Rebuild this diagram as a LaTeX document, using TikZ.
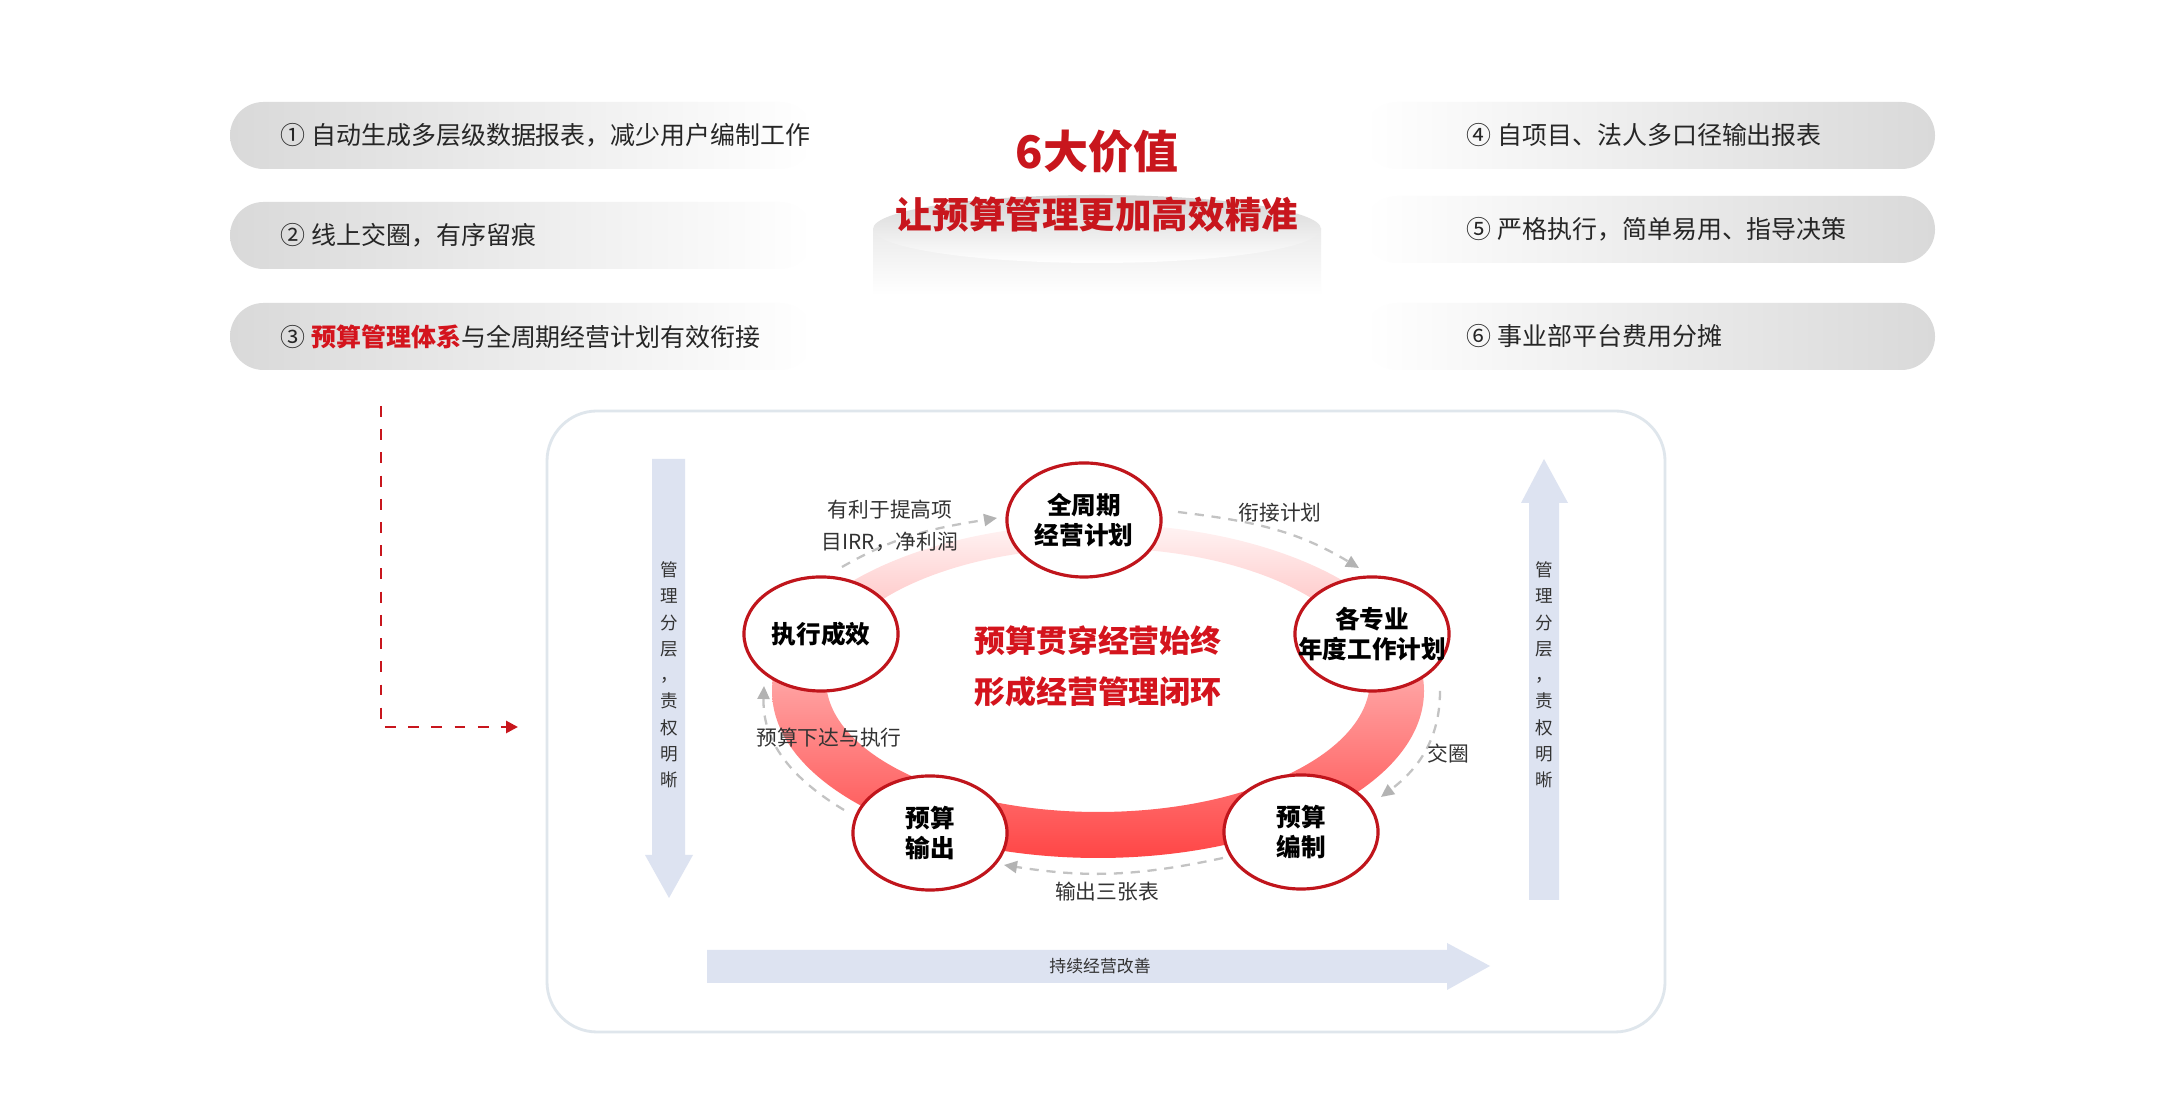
\documentclass[tikz,border=0pt]{standalone}
\usepackage{fontspec}
\setmainfont{Noto Sans CJK SC}
\usepackage{tikz}
\usetikzlibrary{arrows.meta, positioning, calc, shapes.geometric}
\usepackage{xcolor}

\definecolor{titlered}{HTML}{C8161D}
\definecolor{textred}{HTML}{D4141D}
\definecolor{ringred}{HTML}{FF4646}
\definecolor{ringmid}{HTML}{FFB0B0}
\definecolor{ringpale}{HTML}{FFF4F4}
\definecolor{nodered}{HTML}{C0151C}
\definecolor{bluegray}{HTML}{DDE3F1}
\definecolor{framegray}{HTML}{DFE6EC}
\definecolor{dashgray}{HTML}{C3C3C3}
\definecolor{tipgray}{HTML}{B3B3B3}
\definecolor{pillgray}{HTML}{D9D9D9}
\definecolor{inkdark}{HTML}{262626}
\definecolor{inkgray}{HTML}{333333}

\begin{document}
\begin{tikzpicture}[x=0.01cm, y=0.01cm,
    stage/.style={ellipse, draw=nodered, line width=0.9pt, fill=white,
        minimum width=1.54cm, minimum height=1.14cm, inner xsep=-0.25cm, inner ysep=0pt,
        align=center, font=\fontsize{7}{8.5}\selectfont\bfseries},
    flow/.style={draw=dashgray, line width=0.65pt, dash pattern=on 2.6pt off 2.2pt,
        -{Triangle[length=0.13cm, width=0.12cm, color=tipgray]}},
    flowlbl/.style={font=\fontsize{5.9}{9.1}\selectfont, text=inkgray, inner sep=0pt, align=center},
    pilltxt/.style={anchor=west, font=\fontsize{7.1}{8}\selectfont, text=inkdark, inner sep=0pt},
    vtext/.style={align=center, font=\fontsize{5}{7.47}\selectfont, text=inkgray, inner sep=0pt},
    hubtxt/.style={font=\fontsize{8.8}{10}\selectfont\bfseries, text=textred, inner sep=0pt}]
    \fill[white] (0,0) rectangle (2161,1113);
    \useasboundingbox (0,0) rectangle (2161,1113);

    % Value pills
    \foreach \y in {977.5, 877.5, 776.5} {
        \shade[left color=pillgray, right color=white, rounded corners=0.335cm] (230,\y-33.5) rectangle (813,\y+33.5);
    }
    \foreach \y in {977.5, 883.5, 776.5} {
        \shade[left color=white, right color=pillgray, rounded corners=0.335cm] (1364,\y-33.5) rectangle (1935,\y+33.5);
    }
    \node[pilltxt] (v1) at (280,977.5) {① 自动生成多层级数据报表，减少用户编制工作};
    \node[pilltxt] (v2) at (280,877.5) {② 线上交圈，有序留痕};
    \node[pilltxt] (v3) at (280,776.5) {③ \textcolor{textred}{\bfseries 预算管理体系}与全周期经营计划有效衔接};
    \node[pilltxt] (v4) at (1466,977.5) {④ 自项目、法人多口径输出报表};
    \node[pilltxt] (v5) at (1466,883.5) {⑤ 严格执行，简单易用、指导决策};
    \node[pilltxt] (v6) at (1466,776.5) {⑥ 事业部平台费用分摊};

    % Podium and title
    \shade[top color=gray!16, bottom color=white] (873,884) -- (873,818) -- (1321,818) -- (1321,884) -- cycle;
    \shade[top color=gray!34, bottom color=white] (1097,884) ellipse (224 and 34);
    \node[font=\fontsize{12.8}{14}\selectfont\bfseries, text=titlered] (title) at (1097,961) {6大价值};
    \node[font=\fontsize{10.4}{12}\selectfont\bfseries, text=titlered] (subtitle) at (1097,898) {让预算管理更加高效精准};

    % Link into the loop
    \coordinate (hook) at (381,707);
    \coordinate (entry) at (518,386);
    \draw[titlered, line width=0.8pt, dash pattern=on 3.1pt off 3.5pt,
        -{Triangle[length=0.12cm, width=0.12cm]}] (hook) |- (entry);

    % Frame
    \draw[framegray, line width=0.8pt, rounded corners=0.5cm] (547,81) rectangle (1665,702);

    % Side and bottom arrows
    \fill[bluegray] (652,654) -- (685,654) -- (685,258) -- (693,258) -- (669,215) -- (645,258) -- (652,258) -- cycle;
    \fill[bluegray] (1529,213) -- (1559,213) -- (1559,610) -- (1568,610) -- (1544,654) -- (1521,610) -- (1529,610) -- cycle;
    \fill[bluegray] (707,130) -- (1447,130) -- (1447,123) -- (1490,147) -- (1447,170) -- (1447,163) -- (707,163) -- cycle;
    \node[vtext] (leftv) at (669,438) {管\\理\\分\\层\\，\\责\\权\\明\\晰};
    \node[vtext] (rightv) at (1544,438) {管\\理\\分\\层\\，\\责\\权\\明\\晰};
    \node[font=\fontsize{4.8}{6}\selectfont, text=inkgray] (improve) at (1100,147) {持续经营改善};

    % Ring
    \shade[top color=ringpale, middle color=ringmid, bottom color=ringred, even odd rule]
        (1098,422) ellipse (326 and 167) (1098,433) ellipse (272 and 132);
    \node[hubtxt] (core1) at (1098,472) {预算贯穿经营始终};
    \node[hubtxt] (core2) at (1098,421) {形成经营管理闭环};

    % Stages
    \node[stage] (plan) at (1084,593) {全周期\\经营计划};
    \node[stage] (annual) at (1372,479) {各专业\\年度工作计划};
    \node[stage] (draft) at (1301,281) {预算\\编制};
    \node[stage] (output) at (930,280) {预算\\输出};
    \node[stage] (result) at (821,479) {执行成效};

    % Flows
    \draw[flow] ([shift={(21,67)}]result.center) to[out=30, in=189] ([shift={(-87,2)}]plan.center);
    \draw[flow] ([shift={(94,8)}]plan.center) to[out=-7, in=149] ([shift={(-13,66)}]annual.center);
    \draw[flow] ([shift={(68,-57)}]annual.center) to[out=-90, in=37] ([shift={(80,35)}]draft.center);
    \draw[flow] ([shift={(-78,-26)}]draft.center) to[out=192, in=-9] ([shift={(74,-32)}]output.center);
    \draw[flow] ([shift={(-86,23)}]output.center) to[out=149, in=-92] ([shift={(-57,-52)}]result.center);

    \node[flowlbl] (gainlbl) at (890,587) {有利于提高项\\目IRR，净利润};
    \node[flowlbl] (linklbl) at (1280,600) {衔接计划};
    \node[flowlbl] (crosslbl) at (1448,359) {交圈};
    \node[flowlbl] (tablelbl) at (1107,221) {输出三张表};
    \node[flowlbl] (issuelbl) at (829,375) {预算下达与执行};
\end{tikzpicture}
\end{document}
